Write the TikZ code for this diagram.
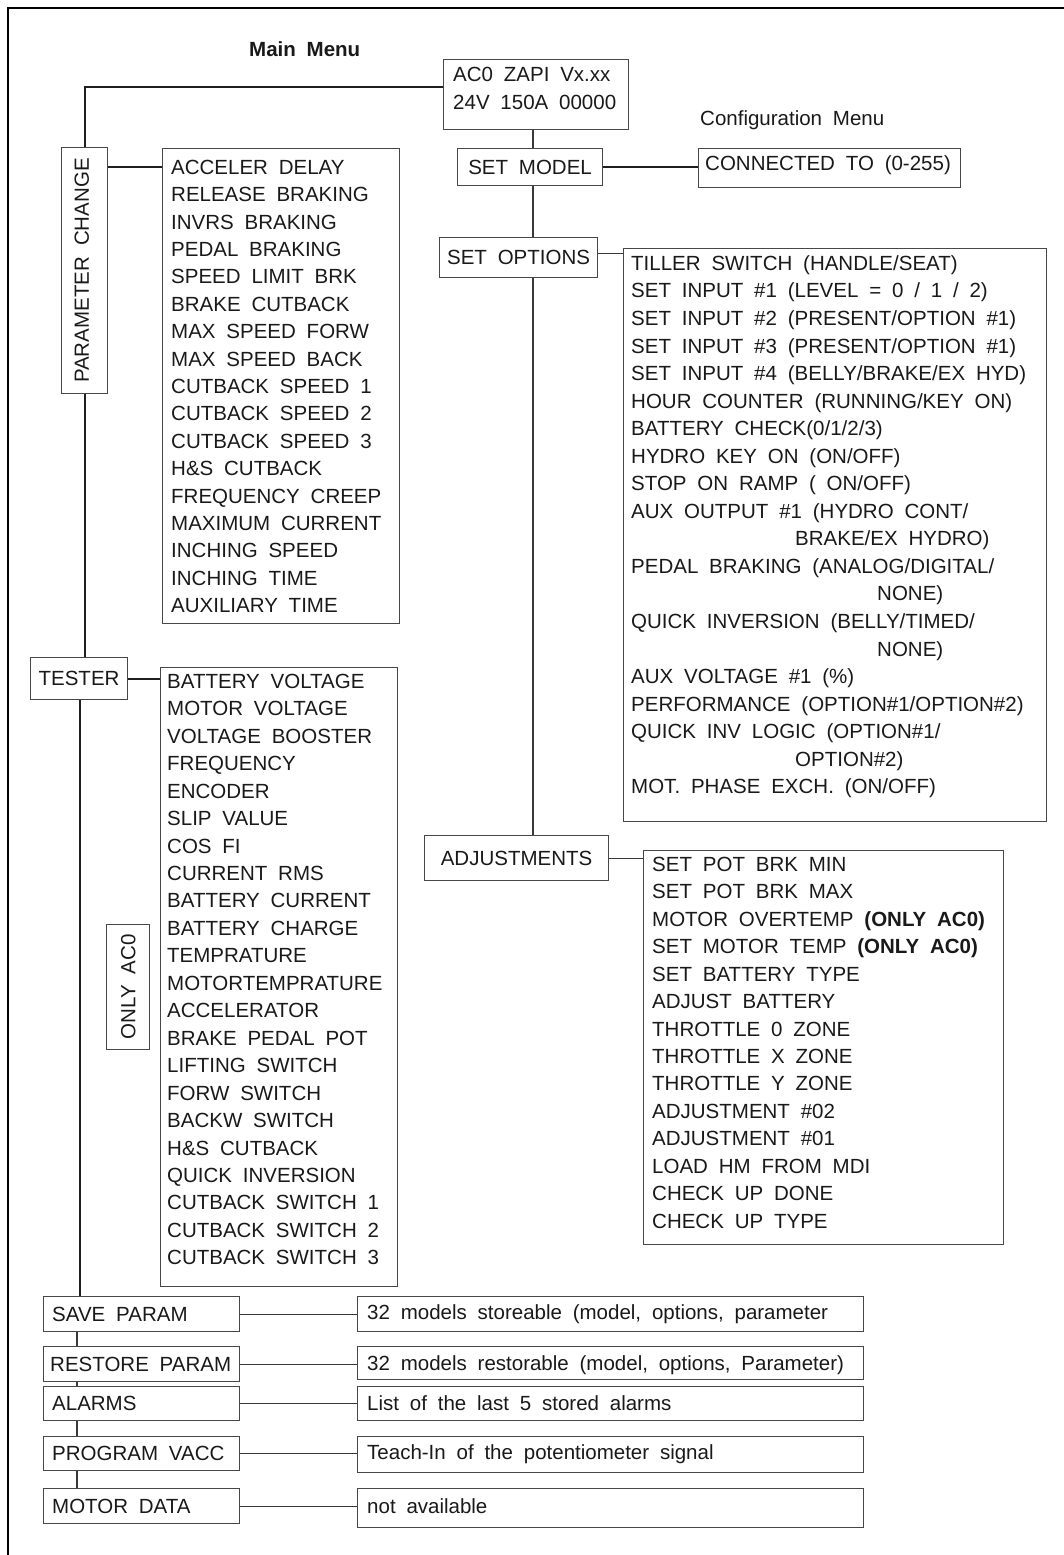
\documentclass[tikz,border=0pt]{standalone}
\usepackage{fontspec}
\setmainfont{Liberation Sans}[WordSpace=1.9]
\begin{document}
\begin{tikzpicture}[x=1pt,y=-1pt,
  frame/.style={draw=black, line width=2.2pt},
  box/.style={draw=black!72, line width=1.1pt, rectangle, inner sep=0pt, anchor=north west},
  txt/.style={text=black!90, font=\fontsize{20.5}{24}\selectfont, inner sep=0pt,
              text height=14.7pt, text depth=0pt, anchor=west},
  ctxt/.style={txt, anchor=center},
  link/.style={draw=black!78, line width=1.1pt},
  trunk/.style={draw=black!88, line width=2pt},
]
\useasboundingbox (0,0) rectangle (1064,1555);

% outer frame (open to the right and bottom)
\draw[frame] (8,1555) -- (8,8) -- (1064,8);

% titles
\node[txt, font=\fontsize{20.5}{24}\selectfont\bfseries] (mainmenu) at (249,49) {Main Menu};
\node[txt] (configmenu) at (700,118) {Configuration Menu};

% ---------- configuration branch ----------
\node[box, minimum width=185pt, minimum height=70pt] (ac0) at (443,59) {};
\node[txt] (ac0-a) at (453,74) {AC0 ZAPI Vx.xx};
\node[txt] (ac0-b) at (453,102) {24V 150A 00000};

\node[box, minimum width=145pt, minimum height=37pt] (setmodel) at (457,148) {};
\node[ctxt] (setmodel-t) at (setmodel.center) {SET MODEL};

\node[box, minimum width=262pt, minimum height=39pt] (connected) at (698,148) {};
\node[txt] (connected-t) at (705,163) {CONNECTED TO (0-255)};

\node[box, minimum width=158pt, minimum height=40pt] (setoptions) at (439,237) {};
\node[ctxt] (setoptions-t) at (setoptions.center) {SET OPTIONS};

\node[box, minimum width=423pt, minimum height=573pt] (options) at (623,248) {};
\foreach \xx/\t [count=\i from 0] in {
  631/{TILLER SWITCH (HANDLE/SEAT)},
  631/{SET INPUT \#1 (LEVEL = 0 / 1 / 2)},
  631/{SET INPUT \#2 (PRESENT/OPTION \#1)},
  631/{SET INPUT \#3 (PRESENT/OPTION \#1)},
  631/{SET INPUT \#4 (BELLY/BRAKE/EX HYD)},
  631/{HOUR COUNTER (RUNNING/KEY ON)},
  631/{BATTERY CHECK(0/1/2/3)},
  631/{HYDRO KEY ON (ON/OFF)},
  631/{STOP ON RAMP ( ON/OFF)},
  631/{AUX OUTPUT \#1 (HYDRO CONT/},
  795/{BRAKE/EX HYDRO)},
  631/{PEDAL BRAKING (ANALOG/DIGITAL/},
  877/{NONE)},
  631/{QUICK INVERSION (BELLY/TIMED/},
  877/{NONE)},
  631/{AUX VOLTAGE \#1 (\%)},
  631/{PERFORMANCE (OPTION\#1/OPTION\#2)},
  631/{QUICK INV LOGIC (OPTION\#1/},
  795/{OPTION\#2)},
  631/{MOT. PHASE EXCH. (ON/OFF)}}
  \node[txt] (opt-\i) at (\xx,{263+27.55*\i}) {\t};

\node[box, minimum width=184pt, minimum height=45pt] (adjustments) at (424,835) {};
\node[ctxt] (adjustments-t) at (adjustments.center) {ADJUSTMENTS};

\node[box, minimum width=360pt, minimum height=394pt] (adjlist) at (643,850) {};
\foreach \t [count=\i from 0] in {
  {SET POT BRK MIN},
  {SET POT BRK MAX},
  {MOTOR OVERTEMP \textbf{(ONLY AC0)}},
  {SET MOTOR TEMP \textbf{(ONLY AC0)}},
  {SET BATTERY TYPE},
  {ADJUST BATTERY},
  {THROTTLE 0 ZONE},
  {THROTTLE X ZONE},
  {THROTTLE Y ZONE},
  {ADJUSTMENT \#02},
  {ADJUSTMENT \#01},
  {LOAD HM FROM MDI},
  {CHECK UP DONE},
  {CHECK UP TYPE}}
  \node[txt] (adj-\i) at (652,{864+27.45*\i}) {\t};

\coordinate (spine) at (533,0);
\draw[link] (ac0.south -| spine) -- (setmodel.north -| spine);
\draw[trunk] (setmodel.east) -- (setmodel.east -| connected.west);
\draw[link] (setmodel.south -| spine) -- (setoptions.north -| spine);
\draw[link] ([yshift=4pt]setoptions.east) -- ([yshift=4pt]setoptions.east -| options.west);
\draw[link] (setoptions.south -| spine) -- (adjustments.north -| spine);
\draw[link] (adjustments.east) -- (adjustments.east -| adjlist.west);

% ---------- parameter branch ----------
\node[box, minimum width=46pt, minimum height=246pt] (pc) at (61,147) {};
\node[ctxt, rotate=90] (pc-t) at ([xshift=-3pt]pc.center) {PARAMETER CHANGE};

\node[box, minimum width=237pt, minimum height=475pt] (plist) at (162,148) {};
\foreach \t [count=\i from 0] in {
  ACCELER DELAY, RELEASE BRAKING, INVRS BRAKING, PEDAL BRAKING,
  SPEED LIMIT BRK, BRAKE CUTBACK, MAX SPEED FORW, MAX SPEED BACK,
  CUTBACK SPEED 1, CUTBACK SPEED 2, CUTBACK SPEED 3, H\&S CUTBACK,
  FREQUENCY CREEP, MAXIMUM CURRENT, INCHING SPEED, INCHING TIME,
  AUXILIARY TIME}
  \node[txt] (par-\i) at (171,{167+27.4*\i}) {\t};

\draw[trunk] ([yshift=-28pt]ac0.north west) -| (pc.north);
\draw[trunk] ([yshift=-20pt]pc.north east) -- ([yshift=-19pt]plist.north west);

% ---------- tester branch ----------
\node[box, minimum width=97pt, minimum height=42pt] (tester) at (30,657) {};
\node[ctxt] (tester-t) at (tester.center) {TESTER};

\node[box, minimum width=237pt, minimum height=619pt] (tlist) at (160,667) {};
\foreach \t [count=\i from 0] in {
  BATTERY VOLTAGE, MOTOR VOLTAGE, VOLTAGE BOOSTER, FREQUENCY, ENCODER,
  SLIP VALUE, COS FI, CURRENT RMS, BATTERY CURRENT, BATTERY CHARGE,
  TEMPRATURE, MOTORTEMPRATURE, ACCELERATOR, BRAKE PEDAL POT,
  LIFTING SWITCH, FORW SWITCH, BACKW SWITCH, H\&S CUTBACK,
  QUICK INVERSION, CUTBACK SWITCH 1, CUTBACK SWITCH 2, CUTBACK SWITCH 3}
  \node[txt] (tst-\i) at (167,{681+27.45*\i}) {\t};

\node[box, minimum width=43pt, minimum height=125pt] (onlyac0) at (106,924) {};
\node[ctxt, rotate=90] (onlyac0-t) at (onlyac0.center) {ONLY AC0};

\draw[trunk] (pc.south) -- (pc.south |- tester.north);
\draw[trunk] (tester.east) -- (tester.east -| tlist.west);

% ---------- lower menu entries ----------
\node[box, minimum width=196pt, minimum height=35pt] (save) at (43,1296) {};
\node[txt] (save-t) at ([xshift=9pt]save.west) {SAVE PARAM};
\node[box, minimum width=196pt, minimum height=35pt] (restore) at (43,1346) {};
\node[txt] (restore-t) at ([xshift=7pt]restore.west) {RESTORE PARAM};
\node[box, minimum width=196pt, minimum height=34pt] (alarms) at (43,1386) {};
\node[txt] (alarms-t) at ([xshift=9pt]alarms.west) {ALARMS};
\node[box, minimum width=196pt, minimum height=34pt] (program) at (43,1436) {};
\node[txt] (program-t) at ([xshift=9pt]program.west) {PROGRAM VACC};
\node[box, minimum width=196pt, minimum height=35pt] (motor) at (43,1488) {};
\node[txt] (motor-t) at ([xshift=9pt]motor.west) {MOTOR DATA};

\node[box, minimum width=506pt, minimum height=35pt] (d1) at (357,1296) {};
\node[txt] (d1-t) at ([xshift=10pt,yshift=2pt]d1.west) {32 models storeable (model, options, parameter};
\node[box, minimum width=506pt, minimum height=33pt] (d2) at (357,1346) {};
\node[txt] (d2-t) at ([xshift=10pt]d2.west) {32 models restorable (model, options, Parameter)};
\node[box, minimum width=506pt, minimum height=34pt] (d3) at (357,1386) {};
\node[txt] (d3-t) at ([xshift=10pt]d3.west) {List of the last 5 stored alarms};
\node[box, minimum width=506pt, minimum height=36pt] (d4) at (357,1436) {};
\node[txt] (d4-t) at ([xshift=10pt,yshift=2pt]d4.west) {Teach-In of the potentiometer signal};
\node[box, minimum width=506pt, minimum height=39pt] (d5) at (357,1488) {};
\node[txt] (d5-t) at ([xshift=10pt,yshift=2pt]d5.west) {not available};

\coordinate (lt) at (80,0);
\coordinate (bt) at (77,0);
\draw[trunk] (tester.south -| lt) -- (save.north -| lt);
\draw[link] (save.south -| bt) -- (restore.north -| bt);
\draw[link] (restore.south -| bt) -- (alarms.north -| bt);
\draw[link] (alarms.south -| bt) -- (program.north -| bt);
\draw[link] (program.south -| bt) -- (motor.north -| bt);

\draw[link] (save.east) -- (save.east -| d1.west);
\draw[link] (restore.east) -- (restore.east -| d2.west);
\draw[link] (alarms.east) -- (alarms.east -| d3.west);
\draw[link] (program.east) -- (program.east -| d4.west);
\draw[link] (motor.east) -- (motor.east -| d5.west);
\end{tikzpicture}
\end{document}
